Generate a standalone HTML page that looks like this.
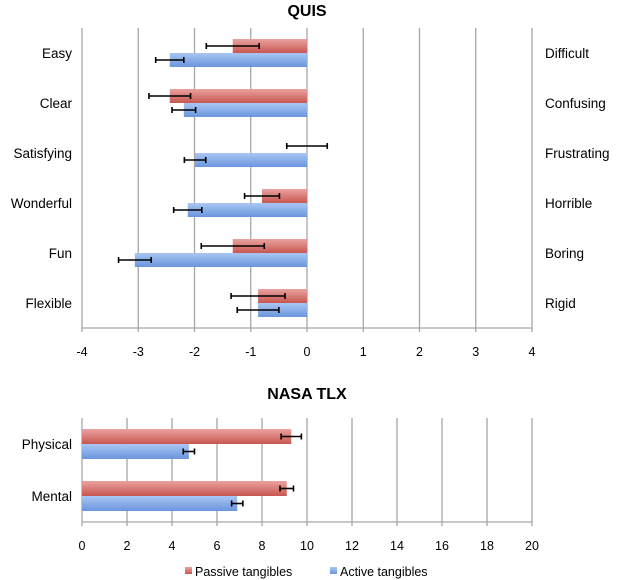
<!DOCTYPE html>
<html><head><meta charset="utf-8">
<style>
html,body{margin:0;padding:0;background:#fff;}
svg{display:block;font-family:"Liberation Sans",sans-serif;}
</style></head>
<body>
<svg id="chart" width="618" height="580" viewBox="0 0 618 580" xmlns="http://www.w3.org/2000/svg">
<defs>
<linearGradient id="gr" x1="0" y1="0" x2="0" y2="1"><stop offset="0" stop-color="#e9a3a1"/><stop offset="1" stop-color="#c85650"/></linearGradient>
<linearGradient id="gb" x1="0" y1="0" x2="0" y2="1"><stop offset="0" stop-color="#a9c6f3"/><stop offset="1" stop-color="#6a96dc"/></linearGradient>
</defs>
<text x="307" y="16" text-anchor="middle" font-size="16" font-weight="bold">QUIS</text>
<text x="307" y="399" text-anchor="middle" font-size="16" font-weight="bold">NASA TLX</text>
<g>
<rect x="185" y="567" width="7" height="7" fill="url(#gr)"/>
<text x="195" y="576" font-size="12.5">Passive tangibles</text>
<rect x="330" y="567" width="7" height="7" fill="url(#gb)"/>
<text x="340" y="576" font-size="12.5">Active tangibles</text>
</g>
</svg>
<script>
const quisLeft = ["Easy","Clear","Satisfying","Wonderful","Fun","Flexible"];
const quisRight = ["Difficult","Confusing","Frustrating","Horrible","Boring","Rigid"];
const quisPassive = [-1.32,-2.44,0,-0.8,-1.32,-0.87];
const quisPassiveErr = [0.47,0.37,0.36,0.31,0.56,0.48];
const quisActive = [-2.44,-2.19,-1.99,-2.12,-3.06,-0.87];
const quisActiveErr = [0.25,0.21,0.19,0.25,0.29,0.37];
const quisTicks = [-4,-3,-2,-1,0,1,2,3,4];
const tlxCats = ["Physical","Mental"];
const tlxPassive = [9.3,9.1];
const tlxPassiveErr = [0.45,0.3];
const tlxActive = [4.75,6.9];
const tlxActiveErr = [0.25,0.25];
const tlxTicks = [0,2,4,6,8,10,12,14,16,18,20];

const svg = document.getElementById('chart');
const NS = 'http://www.w3.org/2000/svg';
function mk(tag, attrs, parent){const e=document.createElementNS(NS,tag);for(const k in attrs)e.setAttribute(k,attrs[k]);(parent||svg).appendChild(e);return e;}

function drawChart(o){
  const sx = v => o.x0 + (v - o.min)/(o.max - o.min)*(o.x1 - o.x0);
  const g = mk('g',{});
  
  
  o.ticks.forEach(t=>{
    const l = mk('line',{x1:sx(t),x2:sx(t),y1:o.top,y2:o.bottom+4,stroke:'#a6a6a6','stroke-width':1.3},g);
    
    
    const tx = mk('text',{x:sx(t),y:o.bottom+28,'text-anchor':'middle','font-size':12.5},g);
    
    
    tx.textContent = t;
  });
  const ax = mk('line',{x1:o.x0,x2:o.x1,y1:o.bottom,y2:o.bottom,stroke:'#a6a6a6','stroke-width':1.3},g);
  
  
  const band = (o.bottom - o.top)/o.cats.length;
  o.cats.forEach((c,i)=>{
    const cy = o.top + band*(i+0.5);
    const series = [[o.pass[i],o.passErr[i],'url(#gr)',cy-o.bh,'bar-passive'],[o.act[i],o.actErr[i],'url(#gb)',cy,'bar-active']];
    series.forEach(s=>{
      const a = sx(Math.min(0,s[0])), b = sx(Math.max(0,s[0]));
      if (b - a > 0.1){
        const r = mk('rect',{x:a,y:s[3],width:b-a,height:o.bh,fill:s[2]},g);
        
        
      }
      const ey = s[3] + o.bh/2;
      const e1 = sx(s[0]-s[1]), e2 = sx(s[0]+s[1]);
      const eg = mk('g',{stroke:'#000','stroke-width':1.6},g);
      
      
      mk('line',{x1:e1,x2:e2,y1:ey,y2:ey},eg);
      mk('line',{x1:e1,x2:e1,y1:ey-3,y2:ey+3},eg);
      mk('line',{x1:e2,x2:e2,y1:ey-3,y2:ey+3},eg);
    });
    const lt = mk('text',{x:o.x0-10,y:cy+5,'text-anchor':'end','font-size':13.5},g);
    
    
    lt.textContent = c;
    if (o.right){
      const rt = mk('text',{x:545,y:cy+5,'text-anchor':'start','font-size':13.5},g);
      
      
      rt.textContent = o.right[i];
    }
  });
}
drawChart({name:'quis-chart',x0:82,x1:532,min:-4,max:4,top:28,bottom:328,cats:quisLeft,right:quisRight,pass:quisPassive,passErr:quisPassiveErr,act:quisActive,actErr:quisActiveErr,ticks:quisTicks,bh:14});
drawChart({name:'nasa-tlx-chart',x0:82,x1:532,min:0,max:20,top:418,bottom:522,cats:tlxCats,right:null,pass:tlxPassive,passErr:tlxPassiveErr,act:tlxActive,actErr:tlxActiveErr,ticks:tlxTicks,bh:15});
</script>
</body></html>
